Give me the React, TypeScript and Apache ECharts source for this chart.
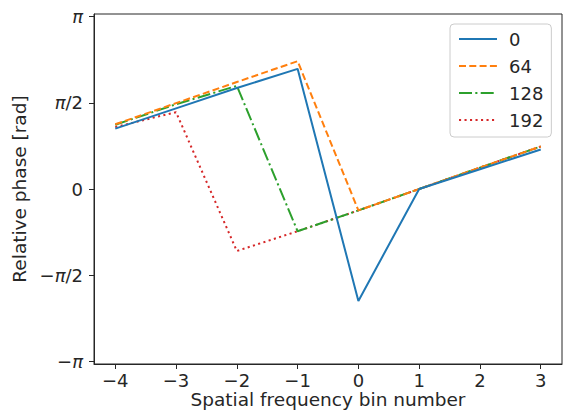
import React, { useEffect, useRef } from "react";
import * as echarts from "echarts";

const bins = [-4, -3, -2, -1, 0, 1, 2, 3];
const seriesNames = ["0", "64", "128", "192"];
const s0 = [1.1, 1.47, 1.84, 2.19, -2.04, 0, 0.36, 0.72];
const s64 = [1.18, 1.565, 1.95, 2.33, -0.39, 0, 0.39, 0.775];
const s128 = [1.17, 1.545, 1.88, -0.77, -0.39, 0, 0.39, 0.775];
const s192 = [1.13, 1.4, -1.13, -0.77, -0.39, 0, 0.39, 0.775];
const xTicks = [-4, -3, -2, -1, 0, 1, 2, 3];
const yTicks = [-Math.PI, -Math.PI / 2, 0, Math.PI / 2, Math.PI];
const yTickLabels = ["−{i|π}", "−{i|π}/2", "0", "{i|π}/2", "{i|π}"];

const colors = ["#1f77b4", "#ff7f0e", "#2ca02c", "#d62728"];
const dashes: any[] = ["solid", [7, 3.3], [13, 3.3, 2.1, 3.3], [2.1, 3.4]];

export default function App() {
  const ref = useRef<HTMLDivElement>(null);
  useEffect(() => {
    document.body.style.margin = "0";
    const chart = echarts.init(ref.current!, undefined, { renderer: "svg" });
    const font = "DejaVu Sans";
    const textColor = "#262626";
    const allData = [s0, s64, s128, s192];
    chart.setOption({
      animation: false,
      textStyle: { fontFamily: font },
      grid: {
        left: 94,
        right: 2,
        top: 14,
        bottom: 48,
        containLabel: false,
        outerBoundsMode: "none",
        show: true,
        borderColor: "#262626",
        borderWidth: 1,
      },
      legend: {
        show: true,
        orient: "vertical",
        left: 450,
        top: 24,
        padding: [6, 8, 8, 8],
        itemWidth: 38,
        itemHeight: 14,
        itemGap: 9,
        itemStyle: { opacity: 0 },
        backgroundColor: "rgba(255,255,255,0.8)",
        borderColor: "#cccccc",
        borderWidth: 1,
        borderRadius: 4,
        textStyle: { fontSize: 18, color: textColor, fontFamily: font, lineHeight: 18, padding: [0, 0, 0, 7] },
        data: seriesNames,
      },
      xAxis: {
        type: "value",
        min: -4.35,
        max: 3.35,
        name: "Spatial frequency bin number",
        nameLocation: "middle",
        nameGap: 25,
        nameMoveOverlap: false,
        nameTextStyle: { fontSize: 18.5, color: textColor, fontFamily: font, lineHeight: 20 },
        axisLine: { show: true, onZero: false, lineStyle: { color: "#262626", width: 1 } },
        axisTick: { show: true, length: 5, customValues: xTicks, lineStyle: { color: "#262626" } },
        axisLabel: {
          customValues: xTicks,
          margin: 7,
          fontSize: 18,
          lineHeight: 18,
          color: textColor,
          fontFamily: font,
          formatter: (v: number) => (v < 0 ? "−" + Math.abs(v) : String(v)),
        },
        splitLine: { show: false },
      },
      yAxis: {
        type: "value",
        min: -3.19,
        max: 3.19,
        name: "Relative phase [rad]",
        nameLocation: "middle",
        nameGap: 58,
        nameTextStyle: { fontSize: 18.5, color: textColor, fontFamily: font },
        axisLine: { show: true, onZero: false, lineStyle: { color: "#262626", width: 1 } },
        axisTick: { show: true, length: 5, customValues: yTicks, lineStyle: { color: "#262626" } },
        axisLabel: {
          customValues: yTicks,
          margin: 11,
          fontSize: 18,
          color: textColor,
          fontFamily: font,
          formatter: (v: number) => {
            const k = Math.round(v / (Math.PI / 2));
            return yTickLabels[k + 2];
          },
          rich: { i: { fontStyle: "italic", fontSize: 18, color: textColor, fontFamily: font } },
        },
        splitLine: { show: false },
      },
      series: seriesNames.map((name, idx) => ({
        name,
        type: "line",
        data: bins.map((b, i) => [b, allData[idx][i]]),
        symbol: "none",
        color: colors[idx],
        lineStyle: { color: colors[idx], width: 2, type: dashes[idx] },
        z: 10 - idx,
      })),
    });
    return () => chart.dispose();
  }, []);
  return <div ref={ref} style={{ width: 564, height: 412 }} />;
}
